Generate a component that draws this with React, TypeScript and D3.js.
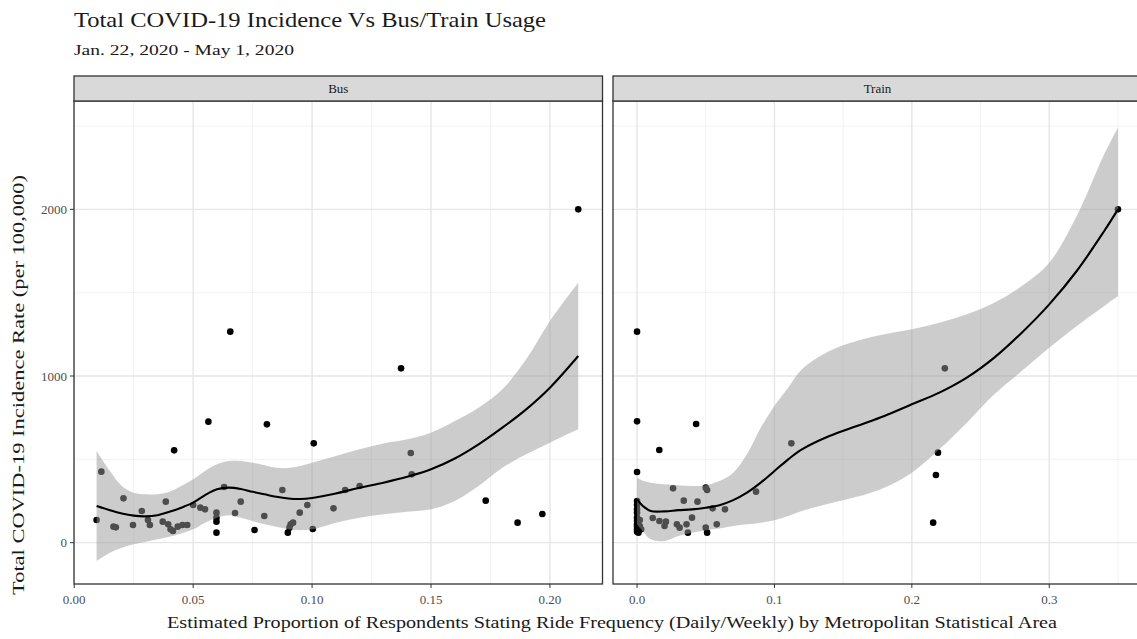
import React from "react";
import * as d3 from "d3";

const W = 1137;
const H = 639;

const titleText = "Total COVID-19 Incidence Vs Bus/Train Usage";
const subtitleText = "Jan. 22, 2020 - May 1, 2020";
const xTitle = "Estimated Proportion of Respondents Stating Ride Frequency (Daily/Weekly) by Metropolitan Statistical Area";
const yTitle = "Total COVID-19 Incidence Rate (per 100,000)";

const yTicks = [0, 1000, 2000];
const yMinor = [500, 1500, 2500];
const busTicks = [0, 0.05, 0.1, 0.15, 0.2];
const busMinor = [0.025, 0.075, 0.125, 0.175];
const trainTicks = [0, 0.1, 0.2, 0.3];
const trainMinor = [0.05, 0.15, 0.25, 0.35];

// Bus observations
const busRide = [0.0094, 0.0114, 0.0165, 0.0175, 0.0207, 0.0247, 0.0284, 0.031, 0.0318, 0.0372, 0.0385, 0.0395, 0.0405, 0.0415, 0.042, 0.0435, 0.0455, 0.0475, 0.05, 0.053, 0.055, 0.0564, 0.0598, 0.0598, 0.0598, 0.0598, 0.063, 0.0656, 0.0676, 0.07, 0.0758, 0.0799, 0.081, 0.0875, 0.0898, 0.0905, 0.091, 0.092, 0.0948, 0.098, 0.1003, 0.1007, 0.109, 0.1139, 0.12, 0.1374, 0.1415, 0.1419, 0.173, 0.1864, 0.1968, 0.2119];
const busRate = [136, 426, 96, 92, 266, 106, 190, 136, 106, 126, 246, 110, 80, 70, 554, 96, 106, 106, 226, 210, 200, 726, 180, 150, 126, 60, 334, 1266, 178, 246, 76, 160, 710, 316, 60, 90, 110, 120, 180, 226, 82, 596, 206, 316, 340, 1046, 538, 410, 252, 120, 172, 2000];

// Train observations
const trainRide = [0, 0, 0, 0, 0, 0, 0, 0, 0, 0, 0, 0, 0, 0.002, 0.002, 0.003, 0.001, 0.0114, 0.0162, 0.0163, 0.02, 0.021, 0.0262, 0.029, 0.031, 0.034, 0.036, 0.037, 0.04, 0.043, 0.044, 0.05, 0.051, 0.05, 0.051, 0.055, 0.058, 0.064, 0.0866, 0.1123, 0.2155, 0.2175, 0.219, 0.224, 0.35];
const trainRate = [1266, 728, 424, 250, 226, 200, 180, 150, 130, 110, 96, 80, 66, 136, 100, 80, 60, 148, 556, 130, 100, 126, 326, 110, 90, 252, 110, 60, 150, 712, 246, 330, 316, 90, 60, 206, 110, 200, 306, 596, 120, 406, 540, 1046, 2000];

// Loess fits
const busFitX = [0.0094, 0.015, 0.02, 0.025, 0.03, 0.035, 0.04, 0.045, 0.05, 0.055, 0.06, 0.065, 0.07, 0.075, 0.08, 0.085, 0.09, 0.095, 0.1, 0.11, 0.12, 0.13, 0.14, 0.15, 0.16, 0.17, 0.18, 0.19, 0.2, 0.2119];
const busFit = [220, 195, 175, 162, 158, 165, 185, 210, 240, 285, 320, 330, 322, 305, 290, 275, 265, 262, 268, 295, 330, 360, 395, 440, 505, 590, 690, 800, 930, 1120];
const busUpper = [550, 430, 340, 300, 290, 290, 305, 340, 380, 430, 470, 490, 490, 480, 465, 450, 448, 460, 480, 520, 560, 595, 620, 660, 730, 810, 920, 1100, 1330, 1560];
const busLower = [-110, -60, -30, -10, 5, 20, 35, 55, 80, 120, 150, 165, 150, 130, 110, 95, 80, 75, 80, 120, 150, 170, 185, 200, 250, 340, 450, 530, 600, 680];

const trainFitX = [0, 0.005, 0.01, 0.02, 0.03, 0.04, 0.05, 0.06, 0.07, 0.08, 0.09, 0.1, 0.11, 0.12, 0.14, 0.16, 0.18, 0.2, 0.22, 0.24, 0.26, 0.28, 0.3, 0.32, 0.34, 0.35];
const trainFit = [260, 215, 190, 188, 195, 200, 210, 225, 255, 300, 360, 430, 500, 560, 640, 700, 760, 830, 900, 990, 1110, 1260, 1430, 1630, 1870, 2000];
const trainUpper = [390, 370, 360, 350, 345, 340, 345, 370, 420, 530, 690, 820, 930, 1040, 1150, 1210, 1250, 1280, 1320, 1370, 1440, 1540, 1680, 1960, 2330, 2490];
const trainLower = [110, 60, 20, 10, 40, 60, 75, 85, 100, 110, 120, 135, 160, 190, 235, 275, 330, 420, 560, 720, 890, 1030, 1170, 1300, 1420, 1480];

const FONT = "Liberation Serif, DejaVu Serif, serif";

export default function App() {
  const y = d3.scaleLinear().domain([-248, 2650]).range([584, 101]);
  const panels = [
    {
      name: "Bus",
      x: d3.scaleLinear().domain([-0.0001, 0.2221]).range([74, 602.5]),
      rx: busRide, ry: busRate,
      fx: busFitX, fit: busFit, up: busUpper, lo: busLower,
      major: busTicks, minor: busMinor, fmt: d3.format(".2f"),
    },
    {
      name: "Train",
      x: d3.scaleLinear().domain([-0.0175, 0.3675]).range([613, 1142]),
      rx: trainRide, ry: trainRate,
      fx: trainFitX, fit: trainFit, up: trainUpper, lo: trainLower,
      major: trainTicks, minor: trainMinor, fmt: d3.format(".1f"),
    },
  ];
  const [yTop, yBot] = [y.range()[1], y.range()[0]];
  const ts = { fontFamily: FONT };

  return (
    <svg width={W} height={H} style={{ position: "absolute", left: 0, top: 0, background: "#fff", fontFamily: FONT }}>
      <rect x={0} y={0} width={W} height={H} fill="#fff" />
      <defs>
        {panels.map((p, i) => (
          <clipPath id={"clip" + i} key={i}>
            <rect x={p.x.range()[0]} y={yTop} width={p.x.range()[1] - p.x.range()[0]} height={yBot - yTop} />
          </clipPath>
        ))}
      </defs>
      <text style={ts} x={74} y={27} fontSize={21} fill="#1a1a1a" textLength={472} lengthAdjust="spacingAndGlyphs">{titleText}</text>
      <text style={ts} x={74} y={55} fontSize={15} fill="#1a1a1a" textLength={220} lengthAdjust="spacingAndGlyphs">{subtitleText}</text>
      {panels.map((p, i) => {
        const [x0, x1] = p.x.range();
        const pts = p.rx.map((v, k) => [v, p.ry[k]] as [number, number]);
        const band = p.fx.map((v, k) => ({ v, up: p.up[k], lo: p.lo[k], f: p.fit[k] }));
        const area = d3.area<any>().x((d) => p.x(d.v)).y0((d) => y(d.lo)).y1((d) => y(d.up)).curve(d3.curveCatmullRom);
        const line = d3.line<any>().x((d) => p.x(d.v)).y((d) => y(d.f)).curve(d3.curveCatmullRom);
        return (
          <g key={p.name}>
            <g clipPath={`url(#clip${i})`}>
              {p.minor.map((t) => (
                <line key={"vm" + t} x1={p.x(t)} x2={p.x(t)} y1={yTop} y2={yBot} stroke="#f2f2f2" strokeWidth={1} />
              ))}
              {yMinor.map((t) => (
                <line key={"hm" + t} x1={x0} x2={x1} y1={y(t)} y2={y(t)} stroke="#f2f2f2" strokeWidth={1} />
              ))}
              {p.major.map((t) => (
                <line key={"vM" + t} x1={p.x(t)} x2={p.x(t)} y1={yTop} y2={yBot} stroke="#e6e6e6" strokeWidth={1.4} />
              ))}
              {yTicks.map((t) => (
                <line key={"hM" + t} x1={x0} x2={x1} y1={y(t)} y2={y(t)} stroke="#e6e6e6" strokeWidth={1.4} />
              ))}
              {pts.map((d, k) => (
                <circle key={k} cx={p.x(d[0])} cy={y(d[1])} r={3.3} fill="#000" />
              ))}
              <path d={area(band) || ""} fill="#999999" opacity={0.5} />
              <path d={line(band) || ""} fill="none" stroke="#000" strokeWidth={2.1} />
            </g>
            <rect x={x0} y={yTop} width={x1 - x0} height={yBot - yTop} fill="none" stroke="#333" strokeWidth={1.3} />
            <rect x={x0} y={76} width={x1 - x0} height={yTop - 76} fill="#d9d9d9" stroke="#333" strokeWidth={1.3} />
            <text style={ts} x={(x0 + x1) / 2} y={93} textAnchor="middle" fontSize={13} fill="#1a1a1a">{p.name}</text>
            {p.major.map((t) => (
              <g key={"xt" + t}>
                <line x1={p.x(t)} x2={p.x(t)} y1={yBot} y2={yBot + 4} stroke="#333" strokeWidth={1} />
                <text style={ts} x={p.x(t)} y={yBot + 20} textAnchor="middle" fontSize={13} fill="#4d4d4d">{p.fmt(t)}</text>
              </g>
            ))}
            {i === 0 && yTicks.map((t) => (
              <g key={"yt" + t}>
                <line x1={x0 - 4} x2={x0} y1={y(t)} y2={y(t)} stroke="#333" strokeWidth={1} />
                <text style={ts} x={x0 - 7} y={y(t) + 4.5} textAnchor="end" fontSize={13} fill="#4d4d4d">{t}</text>
              </g>
            ))}
          </g>
        );
      })}
      <text style={ts} x={612} y={628} textAnchor="middle" fontSize={16} fill="#1a1a1a" textLength={890} lengthAdjust="spacingAndGlyphs">{xTitle}</text>
      <text style={ts} transform={`translate(24, 385) rotate(-90)`} textAnchor="middle" fontSize={16} fill="#1a1a1a" textLength={420} lengthAdjust="spacingAndGlyphs">{yTitle}</text>
    </svg>
  );
}
